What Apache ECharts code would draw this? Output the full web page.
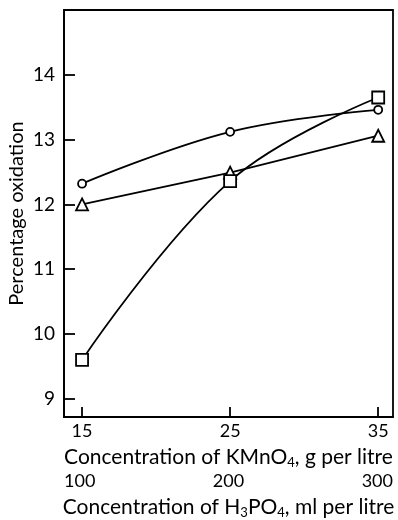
<!DOCTYPE html>
<html>
<head>
<meta charset="utf-8">
<style>html,body{margin:0;padding:0;background:#fff;}#c{width:398px;height:520px;}</style>
<script src="https://cdn.jsdelivr.net/npm/echarts@6/dist/echarts.min.js"></script>
</head>
<body>
<div id="c"></div>
<script>
var kmno4Values = [15, 25, 35];
var h3po4Ticks = [100, 200, 300];
var yTicks = [9, 10, 11, 12, 13, 14];
var circleSeries = [12.32, 13.12, 13.46];
var triangleSeries = [12.0, 12.49, 13.06];
var squareSeries = [9.60, 12.36, 13.65];

var FONT = 'Lato';
function pairs(vals) { return kmno4Values.map(function (x, i) { return [x, vals[i]]; }); }

var chart = echarts.init(document.getElementById('c'), null, { renderer: 'canvas' });
var baseSeries = {
  type: 'line',
  lineStyle: { color: '#000', width: 1.8 },
  itemStyle: { color: '#fff', borderColor: '#000', borderWidth: 1.8 },
  showAllSymbol: true,
  animation: false,
  z: 3
};
var subRich = { s: { fontSize: 13, fontFamily: FONT, color: '#000', padding: [10, 0, 0, 0] } };
chart.setOption({
  backgroundColor: '#fff',
  animation: false,
  grid: { left: 64, right: 5, top: 10, bottom: 103, containLabel: false, outerBoundsMode: 'none', show: true, borderColor: '#000', borderWidth: 1.8, backgroundColor: 'transparent' },
  xAxis: [{
    type: 'value', min: 13.78, max: 36.0,
    axisLine: { show: true, lineStyle: { color: '#000', width: 1.8 } },
    axisTick: { show: true, inside: true, length: 10, lineStyle: { color: '#000', width: 1.8 }, customValues: kmno4Values },
    axisLabel: { show: true, color: '#000', fontFamily: FONT, fontSize: 18, margin: 5, customValues: kmno4Values },
    splitLine: { show: false },
    name: 'Concentration of KMnO{s|4}, g per litre',
    nameLocation: 'middle', nameGap: 29, nameMoveOverlap: false,
    nameTextStyle: { color: '#000', fontFamily: FONT, fontSize: 21, rich: subRich }
  }, {
    type: 'value', min: 100, max: 300, position: 'bottom', offset: 50,
    axisLine: { show: false }, axisTick: { show: false }, splitLine: { show: false },
    axisLabel: { show: true, color: '#000', fontFamily: FONT, fontSize: 18, margin: 5, customValues: h3po4Ticks, alignMinLabel: 'left', alignMaxLabel: 'right' },
    name: 'Concentration of H{s|3}PO{s|4}, ml per litre',
    nameLocation: 'middle', nameGap: 29, nameMoveOverlap: false,
    nameTextStyle: { color: '#000', fontFamily: FONT, fontSize: 21, rich: subRich }
  }],
  yAxis: {
    type: 'value', min: 8.72, max: 15.0,
    axisLine: { show: true, lineStyle: { color: '#000', width: 1.8 } },
    axisTick: { show: true, inside: true, length: 11, lineStyle: { color: '#000', width: 1.8 }, customValues: yTicks },
    axisLabel: { show: true, color: '#000', fontFamily: FONT, fontSize: 19, margin: 9, customValues: yTicks },
    splitLine: { show: false },
    name: 'Percentage oxidation', nameLocation: 'middle', nameGap: 37, nameMoveOverlap: false,
    nameTextStyle: { color: '#000', fontFamily: FONT, fontSize: 20 }
  },
  series: [
    Object.assign({}, baseSeries, { name: 'circle', data: pairs(circleSeries), smooth: 0.4, symbol: 'circle', symbolSize: 8 }),
    Object.assign({}, baseSeries, { name: 'triangle', data: pairs(triangleSeries), smooth: false, symbol: 'triangle', symbolSize: 12 }),
    Object.assign({}, baseSeries, { name: 'square', data: pairs(squareSeries), smooth: 0.4, symbol: 'rect', symbolSize: 12 })
  ]
});
</script>
</body>
</html>
